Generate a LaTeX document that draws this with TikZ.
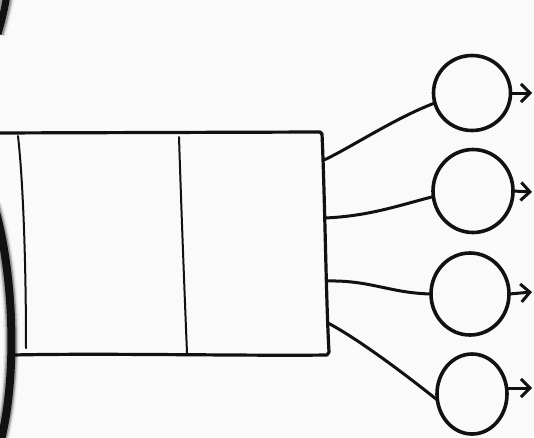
\documentclass[tikz,border=0pt]{standalone}
\usetikzlibrary{shapes.geometric,arrows.meta}
\definecolor{bg}{HTML}{FAFAFA}
\definecolor{ink}{HTML}{111111}
\tikzset{
  bubble/.style={ellipse,draw=ink,line width=3.6pt,inner sep=0pt,outer sep=0pt},
  wire/.style={draw=ink,line width=3pt,line cap=round},
  outarrow/.style={draw=ink,line width=3pt,-{Straight Barb[length=9pt,width=18pt,line width=3pt]}},
  frame/.style={draw=ink,line width=3.2pt,line join=round},
  divider/.style={draw=ink,line width=2pt,line cap=round},
}
\begin{document}
\begin{tikzpicture}[x=1pt,y=-1pt]
\fill[bg] (0,0) rectangle (534,437);
\useasboundingbox (0,0) rectangle (534,437);
\clip (0,0) rectangle (534,437);
% big dark arc with soft shadow at left
\foreach \w/\o in {16/0.06,13/0.12,11/0.25}{
  \draw[black,line width=\w pt,opacity=\o] (-6,205) .. controls (16,280) and (17,390) .. (-2,450);
  \draw[black,line width=\w pt,opacity=\o] (7,-6) .. controls (5,8) and (2,20) .. (-2,34);
}
\draw[ink,line width=8pt] (-6,205) .. controls (16,280) and (17,390) .. (-2,450);
\draw[ink,line width=7pt] (7,-6) .. controls (5,8) and (2,20) .. (-2,34);
% rectangle (left side out of view)
\draw[frame] (-10,133) -- (320,132) -- (322,134) .. controls (325,200) and (326,300) .. (329,352) -- (327,355) .. controls (250,356) and (100,353) .. (13,355);
\draw[divider] (18,136) .. controls (23,180) and (26,260) .. (26,348);
\draw[divider] (179,137) .. controls (181,200) and (184,280) .. (187,353);
% connector starts on the right side of the rectangle
\coordinate (p1) at (324,160);
\coordinate (p2) at (325,218);
\coordinate (p3) at (327,281);
\coordinate (p4) at (328,323);
% bubbles
\node[bubble,minimum width=77pt,minimum height=75pt] (c1) at (472,93) {};
\node[bubble,minimum width=80pt,minimum height=83pt] (c2) at (473,191) {};
\node[bubble,minimum width=78pt,minimum height=82pt] (c3) at (470,294) {};
\node[bubble,minimum width=70pt,minimum height=80pt] (c4) at (472,394) {};
% connectors
\draw[wire] (p1) .. controls (350,148) and (395,118) .. (c1.195);
\draw[wire] (p2) .. controls (370,216) and (400,205) .. (c2.188);
\draw[wire] (p3) .. controls (370,280) and (390,293) .. (c3.west);
\draw[wire] (p4) .. controls (360,340) and (410,378) .. (c4.190);
% output arrows
\coordinate (e1) at (532,93);
\coordinate (e2) at (532,192);
\coordinate (e3) at (532,292);
\coordinate (e4) at (532,388);
\draw[outarrow] (c1.east) -- (e1);
\draw[outarrow] (c2.east) -- (e2);
\draw[outarrow] (c3.east) -- (e3);
\draw[outarrow] (c4.east |- e4) -- (e4);
\end{tikzpicture}
\end{document}
